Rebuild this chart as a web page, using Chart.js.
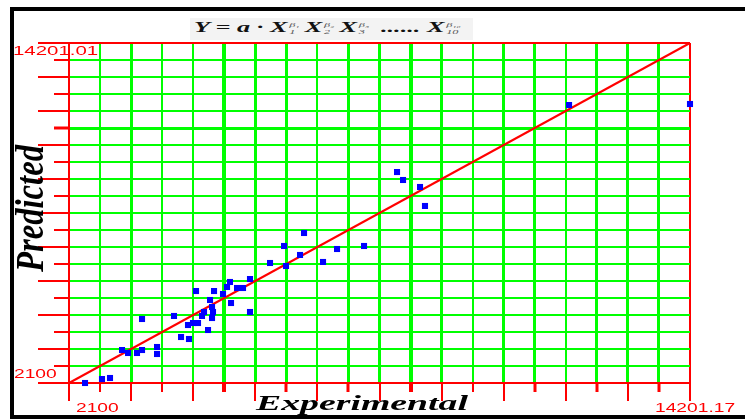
<!DOCTYPE html>
<html>
<head>
<meta charset="utf-8">
<script src="https://cdn.jsdelivr.net/npm/chart.js@4.4.1/dist/chart.umd.min.js"></script>
<style>
html, body { margin: 0; padding: 0; background: #fff; }
#wrap { position: relative; width: 745px; height: 419px; overflow: hidden; }
#frame { position: absolute; left: 10px; top: 7px; width: 800px; height: 412px; box-sizing: border-box; border: 4px solid #000; }
#formula { position: absolute; left: 190px; top: 18px; width: 283px; height: 22px; background: #f3f3f3; }
#formula .f { position: absolute; left: 4px; top: 1px; white-space: nowrap; font: bold italic 15px "Liberation Serif", serif; color: #111; transform-origin: 0 0; }
#formula .ss { display: inline-flex; flex-direction: column; vertical-align: middle; font-size: 7px; line-height: 7px; margin: 0 3px 0 1px; font-weight: normal; color: #555; }
canvas { position: absolute; left: 0; top: 0; }
</style>
</head>
<body>
<div id="wrap">
  <div id="frame"></div>
  <div id="formula"><span class="f" id="formula-text">Y = a · X<span class="ss"><span>β₁</span><span>1</span></span>X<span class="ss"><span>β₂</span><span>2</span></span>X<span class="ss"><span>β₃</span><span>3</span></span> ...... X<span class="ss"><span>β₁₀</span><span>10</span></span></span></div>
  <canvas id="chart" width="745" height="419"></canvas>
</div>
<script>
/* Datos */
const AXIS_MIN = 2100;
const AXIS_MAX = 14201;
const xTickLabels = ['2100', '14201.17'];
const yTickLabels = ['2100', '14201.01'];
const xTitle = 'Experimental';
const yTitle = 'Predicted';

const experimental = [2412, 2743, 2899, 3133, 3250, 3425, 3523, 3815, 3815, 3523,
  4146, 4283, 4438, 4419, 4516, 4614, 4809, 4692, 4731, 4887,
  4906, 4887, 4848, 4575, 4926, 5101, 5179, 5237, 5257, 5374,
  5491, 5627, 5627, 6017, 6329, 6602, 7050, 6290, 6680, 7323,
  7849, 8492, 8609, 8940, 9037, 11844, 14201];
const predicted = [2100, 2242, 2278, 3274, 3168, 3168, 3274, 3381, 3132, 4378,
  4485, 3737, 3666, 4164, 4235, 4235, 3986, 4485, 4627, 4413,
  4627, 4805, 5054, 5374, 5374, 5268, 5517, 5695, 4947, 5481,
  5481, 5801, 4627, 6371, 6264, 6656, 6407, 6976, 7439, 6869,
  6976, 9609, 9325, 9076, 8400, 11994, 12030];

/* Estilos de la grilla */
const xGridWidths = [2, 2, 3, 2, 2, 4, 3, 3, 2, 3, 3, 4, 3, 2, 3, 3, 2, 3, 3, 3, 2];
const RED = '#ff0000';
const GREEN = '#00ff00';

/* Fórmula: estirada al ancho del recuadro */
const ft = document.getElementById('formula-text');
ft.style.transform = 'scaleX(' + (272 / ft.getBoundingClientRect().width) + ')';

/* Marcas y textos de los ejes */
const axisDecor = {
  id: 'axisDecor',
  afterDraw(chart) {
    const { ctx, chartArea } = chart;
    const xs = chart.scales.x, ys = chart.scales.y;
    ctx.save();
    ctx.fillStyle = RED;

    ys.ticks.forEach((t, i) => {
      const y = Math.round(ys.getPixelForValue(t.value));
      const len = i % 2 === 0 ? 31 : 15;
      const w = i === 15 ? 3 : 2;
      ctx.fillRect(chartArea.left - len, y - w / 2, len, w);
    });
    xs.ticks.forEach((t, i) => {
      const x = Math.round(xs.getPixelForValue(t.value));
      const len = i % 2 === 0 ? 18 : 9;
      const w = i % 2 === 0 ? 2 : xGridWidths[i];
      ctx.fillRect(x - w / 2, chartArea.bottom, w, len);
    });

    const stretch = (text, x, y, sx) => {
      ctx.save();
      ctx.translate(x, y);
      ctx.scale(sx, 1);
      ctx.fillText(text, 0, 0);
      ctx.restore();
    };
    ctx.font = '12px "Liberation Sans", Arial, sans-serif';
    ctx.textBaseline = 'alphabetic';
    stretch(yTickLabels[1], 13, ys.getPixelForValue(AXIS_MAX) + 12, 1.7);
    stretch(yTickLabels[0], 14, ys.getPixelForValue(AXIS_MIN) - 5, 1.6);
    stretch(xTickLabels[0], xs.getPixelForValue(AXIS_MIN) + 7, 412, 1.6);
    stretch(xTickLabels[1], xs.getPixelForValue(AXIS_MAX) - 35, 412, 1.6);

    ctx.fillStyle = '#000';
    ctx.font = 'bold italic 20px "Liberation Serif", serif';
    const wx = ctx.measureText(xTitle).width;
    stretch(xTitle, 256, 410, 212 / wx);

    ctx.font = 'bold italic 40px "Liberation Serif", serif';
    const wy = ctx.measureText(yTitle).width;
    ctx.save();
    ctx.translate(43, 272);
    ctx.rotate(-Math.PI / 2);
    ctx.scale(127 / wy, 1);
    ctx.fillText(yTitle, 0, 0);
    ctx.restore();

    ctx.restore();
  }
};

const points = experimental.map((v, i) => ({ x: v, y: predicted[i] }));

new Chart(document.getElementById('chart'), {
  type: 'scatter',
  data: {
    datasets: [
      {
        label: 'Datos',
        data: points,
        pointStyle: 'rect',
        pointRadius: 4.3,
        backgroundColor: '#0000ff',
        borderWidth: 0,
        clip: false
      },
      {
        label: 'Y = X',
        data: [{ x: AXIS_MIN, y: AXIS_MIN }, { x: AXIS_MAX, y: AXIS_MAX }],
        showLine: true,
        borderColor: RED,
        borderWidth: 2,
        pointRadius: 0,
        clip: false
      }
    ]
  },
  options: {
    responsive: false,
    animation: false,
    events: [],
    layout: { padding: { top: 43, right: 55, left: 0, bottom: 0 } },
    plugins: { legend: { display: false }, tooltip: { enabled: false } },
    scales: {
      x: {
        type: 'linear',
        min: AXIS_MIN,
        max: AXIS_MAX,
        afterBuildTicks: s => { s.ticks = Array.from({ length: 21 }, (_, i) => ({ value: AXIS_MIN + (AXIS_MAX - AXIS_MIN) * i / 20 })); },
        afterFit: s => { s.height = 36; },
        ticks: { display: false },
        border: { display: true, color: RED, width: 2 },
        grid: {
          drawTicks: false,
          color: c => (c.index === 0 || c.index === 20) ? RED : GREEN,
          lineWidth: c => xGridWidths[c.index] || 2
        }
      },
      y: {
        type: 'linear',
        min: AXIS_MIN,
        max: AXIS_MAX,
        afterBuildTicks: s => { s.ticks = Array.from({ length: 21 }, (_, i) => ({ value: AXIS_MIN + (AXIS_MAX - AXIS_MIN) * i / 20 })); },
        afterFit: s => { s.width = 69; },
        ticks: { display: false },
        border: { display: true, color: RED, width: 2 },
        grid: {
          drawTicks: false,
          color: c => (c.index === 0 || c.index === 20) ? RED : GREEN,
          lineWidth: c => c.index === 15 ? 3 : 2
        }
      }
    }
  },
  plugins: [axisDecor]
});
</script>
</body>
</html>
